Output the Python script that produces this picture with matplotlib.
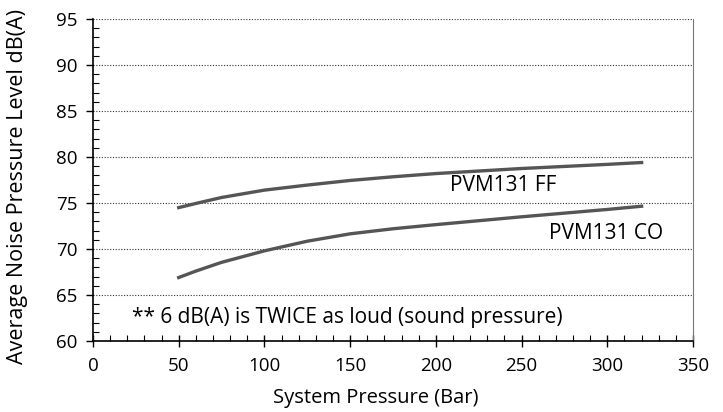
import matplotlib.pyplot as plt
from matplotlib.ticker import MultipleLocator

plt.rcParams['font.family'] = ['Open Sans', 'DejaVu Sans']

pressure = [50, 60, 75, 100, 125, 150, 175, 200, 250, 300, 320]
ff_level = [74.5, 74.95, 75.6, 76.4, 76.95, 77.45, 77.85, 78.2, 78.75, 79.2, 79.4]
co_level = [66.9, 67.6, 68.55, 69.8, 70.85, 71.65, 72.2, 72.65, 73.5, 74.3, 74.65]

fig = plt.figure(figsize=(7.23, 4.12), dpi=100)
ax = fig.add_axes([0.1286, 0.1723, 0.83, 0.7816])

ax.plot(pressure, ff_level, color='#555555', lw=2.4)
ax.plot(pressure, co_level, color='#555555', lw=2.4)

ax.set_xlim(0, 350)
ax.set_ylim(60, 95)
ax.xaxis.set_major_locator(MultipleLocator(50))
ax.xaxis.set_minor_locator(MultipleLocator(10))
ax.yaxis.set_major_locator(MultipleLocator(5))
ax.yaxis.set_minor_locator(MultipleLocator(1))
ax.tick_params(which='major', direction='inout', length=9, width=1, labelsize=13.5)
ax.tick_params(which='minor', direction='in', length=4, width=0.8)
ax.tick_params(axis='x', which='major', pad=7)
ax.tick_params(axis='y', which='major', direction='out', length=5, pad=6)
ax.yaxis.grid(True, which='major', linestyle=(0, (1, 1.5)), color='#333333', lw=0.8)

ax.spines['top'].set_visible(False)
ax.spines['right'].set_color('#777777')
ax.spines['right'].set_linewidth(0.8)
ax.spines['left'].set_linewidth(1.2)
ax.spines['bottom'].set_linewidth(1.2)

ax.text(208, 76.9, 'PVM131 FF', fontsize=15, va='center')
ax.text(266, 71.7, 'PVM131 CO', fontsize=15, va='center')
ax.text(23, 62.6, '** 6 dB(A) is TWICE as loud (sound pressure)', fontsize=15, va='center')

ax.set_xlabel('System Pressure (Bar)', fontsize=14.5)
ax.set_ylabel('Average Noise Pressure Level dB(A)', fontsize=15.5)
ax.xaxis.label.set_va('center')
ax.yaxis.label.set_va('center')
ax.xaxis.set_label_coords(0.472, -0.177)
ax.yaxis.set_label_coords(-0.125, 0.48)

fig.savefig('out.png', dpi=100)
